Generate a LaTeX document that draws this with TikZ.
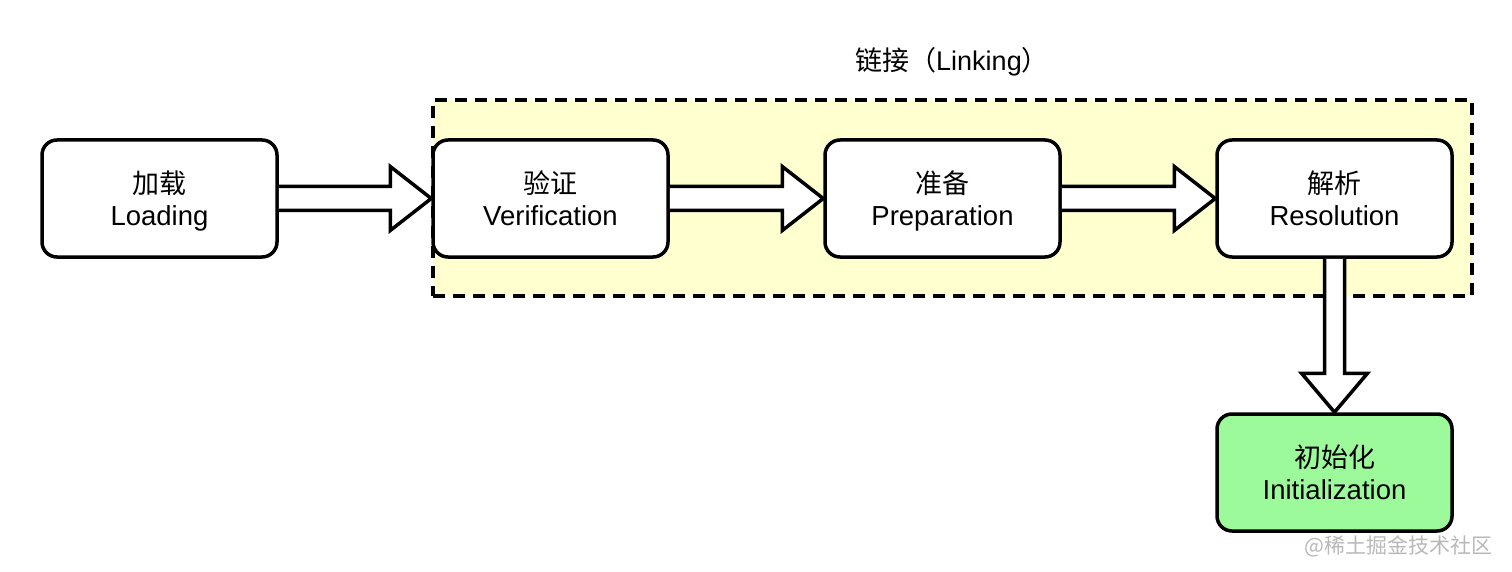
\documentclass[tikz,border=0pt]{standalone}
\usepackage{fontspec}
\setmainfont{Liberation Sans}
\newfontfamily\cjk{Noto Sans CJK SC}
\usetikzlibrary{calc}
\definecolor{linkfill}{HTML}{FFFFD0}
\definecolor{initfill}{HTML}{9CFA9A}
\definecolor{wmgray}{HTML}{B8B8B8}
\tikzset{
  stage/.style={draw=black, line width=3.5pt, rounded corners=15pt, fill=white,
    minimum width=235pt, minimum height=117pt, inner sep=0pt},
  stagetext/.style={align=center, inner sep=0pt, font=\fontsize{27.5}{32}\selectfont, yshift=-4pt},
  blockarrow/.style={draw=black, line width=3.5pt, fill=white, line join=miter},
  groupbox/.style={draw=black, line width=3.5pt, dash pattern=on 12pt off 8pt, fill=linkfill}
}
\newcommand{\twolines}[2]{\strut{\cjk\fontsize{27}{32}\selectfont #1}\\\strut #2}
\begin{document}
\begin{tikzpicture}[x=1pt,y=-1pt]
\useasboundingbox (0,0) rectangle (1512,572);
\node[groupbox, minimum width=1039pt, minimum height=196pt, inner sep=0pt] (grp) at (952.5,198) {};
\node[font=\fontsize{27}{30}\selectfont] (grplabel) at (952,62) {{\cjk 链接（}Linking{\cjk ）}};
\node[stage] (load) at (159.5,198.5) {};
\node[stage] (ver) at (550.5,198.5) {};
\node[stage] (prep) at (942.5,198.5) {};
\node[stage] (res) at (1334.5,198.5) {};
\node[stage, fill=initfill] (init) at (1334.5,472.5) {};
\foreach \n/\c/\e in {load/加载/Loading, ver/验证/Verification, prep/准备/Preparation,
    res/解析/Resolution, init/初始化/Initialization}{
  \node[stagetext] (\n-text) at (\n) {\twolines{\c}{\e}};
}
% block arrows
\foreach \a/\b in {load/ver, ver/prep, prep/res}{
  \draw[blockarrow] ($(\a.east)+(0,-12)$) -- ($(\b.west)+(-41,-12)$) -- ($(\b.west)+(-41,-32)$)
    -- (\b.west) -- ($(\b.west)+(-41,32)$) -- ($(\b.west)+(-41,12)$) -- ($(\a.east)+(0,12)$);
}
\draw[blockarrow] ($(res.south)+(-10,0)$) -- ($(init.north)+(-10,-39)$) -- ($(init.north)+(-33,-39)$)
  -- (init.north) -- ($(init.north)+(33,-39)$) -- ($(init.north)+(10,-39)$) -- ($(res.south)+(10,0)$);
\node[text=wmgray, font=\cjk\fontsize{21}{24}\selectfont, anchor=east] (wm) at (1496,546) {@稀土掘金技术社区};
\end{tikzpicture}
\end{document}
